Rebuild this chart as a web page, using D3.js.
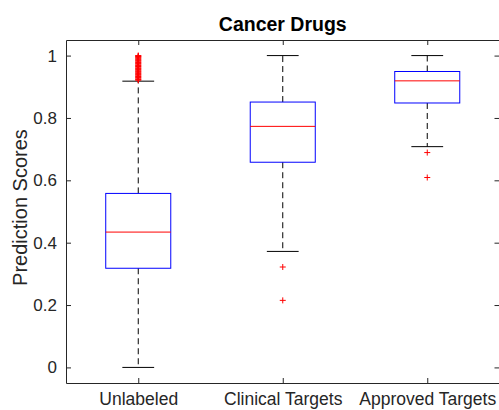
<!DOCTYPE html>
<html>
<head>
<meta charset="utf-8">
<script src="https://cdn.jsdelivr.net/npm/d3@7"></script>
<style>
    body { margin: 0; background: #fff; }
    svg { display: block; font-family: "Liberation Sans", Arial, sans-serif; }
    .whisker { stroke: #000; stroke-width: 1; stroke-dasharray: 6,4; fill: none; }
    .cap { stroke: #000; stroke-width: 1; }
    .box { stroke: #0000ff; stroke-width: 1; fill: none; }
    .median { stroke: #ff0000; stroke-width: 1; }
    .outlier { stroke: #ff0000; stroke-width: 1; }
</style>
</head>
<body>
<svg width="499" height="410"></svg>
<script>
// Box plot data
var categories = ["Unlabeled", "Clinical Targets", "Approved Targets"];
var q1 = [0.318, 0.658, 0.848];
var medians = [0.434, 0.773, 0.919];
var q3 = [0.558, 0.851, 0.949];
var whiskerLow = [0.0, 0.372, 0.708];
var whiskerHigh = [0.918, 1.0, 1.0];
var outliers = [
    [0.921, 0.923, 0.925, 0.928, 0.930, 0.933, 0.935, 0.938, 0.940, 0.943,
     0.945, 0.948, 0.950, 0.953, 0.955, 0.958, 0.960, 0.963, 0.965, 0.968,
     0.970, 0.973, 0.975, 0.978, 0.980, 0.983, 0.985, 0.988, 0.990, 0.993,
     0.995, 0.997, 0.999, 1.0],
    [0.322, 0.215],
    [0.689, 0.609]
];
var yTicks = [0, 0.2, 0.4, 0.6, 0.8, 1];

// SVG settings
var svg = d3.select("svg"),
    plotLeft = 66, plotTop = 40, plotRight = 499.5, plotBottom = 383,
    axisColor = "#262626";

var xScale = d3.scaleLinear().domain([0.5, 3.5]).range([plotLeft, plotRight]),
    yScale = d3.scaleLinear().domain([-0.05, 1.05]).range([plotBottom, plotTop]);

var boxHalf = 0.225, capHalf = 0.11;

function styleAxis(g) {
    g.select(".domain").attr("stroke", axisColor);
    g.selectAll(".tick line").attr("stroke", axisColor);
}

// Axes (inward ticks on all four sides, like a boxed MATLAB axes)
var tickX = [1, 2, 3];

svg.append("g")
    .attr("transform", "translate(0," + plotBottom + ")")
    .call(d3.axisBottom(xScale).tickValues(tickX)
        .tickFormat(function (d) { return categories[d - 1]; })
        .tickSize(-5).tickSizeOuter(0).tickPadding(10))
    .call(styleAxis)
    .call(function (g) {
        g.selectAll("text").attr("fill", axisColor).style("font-size", "17.5px");
    });

svg.append("g")
    .attr("transform", "translate(0," + plotTop + ")")
    .call(d3.axisTop(xScale).tickValues(tickX).tickFormat("")
        .tickSize(-5).tickSizeOuter(0))
    .call(styleAxis);

svg.append("g")
    .attr("transform", "translate(" + plotLeft + ",0)")
    .call(d3.axisLeft(yScale).tickValues(yTicks)
        .tickFormat(d3.format("~g"))
        .tickSize(-5).tickSizeOuter(0).tickPadding(9))
    .call(styleAxis)
    .call(function (g) {
        g.selectAll("text").attr("fill", axisColor).style("font-size", "17px");
    });

svg.append("g")
    .attr("transform", "translate(" + plotRight + ",0)")
    .call(d3.axisRight(yScale).tickValues(yTicks).tickFormat("")
        .tickSize(-5).tickSizeOuter(0))
    .call(styleAxis);

// Boxes
var rows = categories.map(function (c, i) { return i; });
var g = svg.append("g");

[[q3, whiskerHigh], [q1, whiskerLow]].forEach(function (pair) {
    g.selectAll(null).data(rows).enter().append("line")
        .attr("class", "whisker")
        .attr("x1", function (i) { return xScale(i + 1); })
        .attr("x2", function (i) { return xScale(i + 1); })
        .attr("y1", function (i) { return yScale(pair[0][i]); })
        .attr("y2", function (i) { return yScale(pair[1][i]); });
});

[whiskerHigh, whiskerLow].forEach(function (arr) {
    g.selectAll(null).data(rows).enter().append("line")
        .attr("class", "cap")
        .attr("x1", function (i) { return xScale(i + 1 - capHalf); })
        .attr("x2", function (i) { return xScale(i + 1 + capHalf); })
        .attr("y1", function (i) { return yScale(arr[i]); })
        .attr("y2", function (i) { return yScale(arr[i]); });
});

g.selectAll(".box").data(rows).enter().append("rect")
    .attr("class", "box")
    .attr("x", function (i) { return xScale(i + 1 - boxHalf); })
    .attr("y", function (i) { return yScale(q3[i]); })
    .attr("width", function (i) { return xScale(i + 1 + boxHalf) - xScale(i + 1 - boxHalf); })
    .attr("height", function (i) { return yScale(q1[i]) - yScale(q3[i]); });

g.selectAll(".median").data(rows).enter().append("line")
    .attr("class", "median")
    .attr("x1", function (i) { return xScale(i + 1 - boxHalf); })
    .attr("x2", function (i) { return xScale(i + 1 + boxHalf); })
    .attr("y1", function (i) { return yScale(medians[i]); })
    .attr("y2", function (i) { return yScale(medians[i]); });

// Outliers as red plus markers
var outPts = [];
outliers.forEach(function (arr, i) {
    arr.forEach(function (v) { outPts.push([i + 1, v]); });
});
g.selectAll(".outlier").data(outPts).enter().append("path")
    .attr("class", "outlier")
    .attr("d", function (d) {
        var cx = xScale(d[0]), cy = yScale(d[1]), r = 3;
        return "M" + (cx - r) + "," + cy + "H" + (cx + r) +
            "M" + cx + "," + (cy - r) + "V" + (cy + r);
    });

// Title and y label
svg.append("text")
    .attr("x", (plotLeft + plotRight) / 2)
    .attr("y", 31)
    .attr("text-anchor", "middle")
    .style("font-size", "19.5px")
    .style("font-weight", "bold")
    .attr("fill", "#000")
    .text("Cancer Drugs");

svg.append("text")
    .attr("transform", "translate(26.5,207.5) rotate(-90)")
    .attr("text-anchor", "middle")
    .style("font-size", "20px")
    .attr("fill", axisColor)
    .text("Prediction Scores");
</script>
</body>
</html>
